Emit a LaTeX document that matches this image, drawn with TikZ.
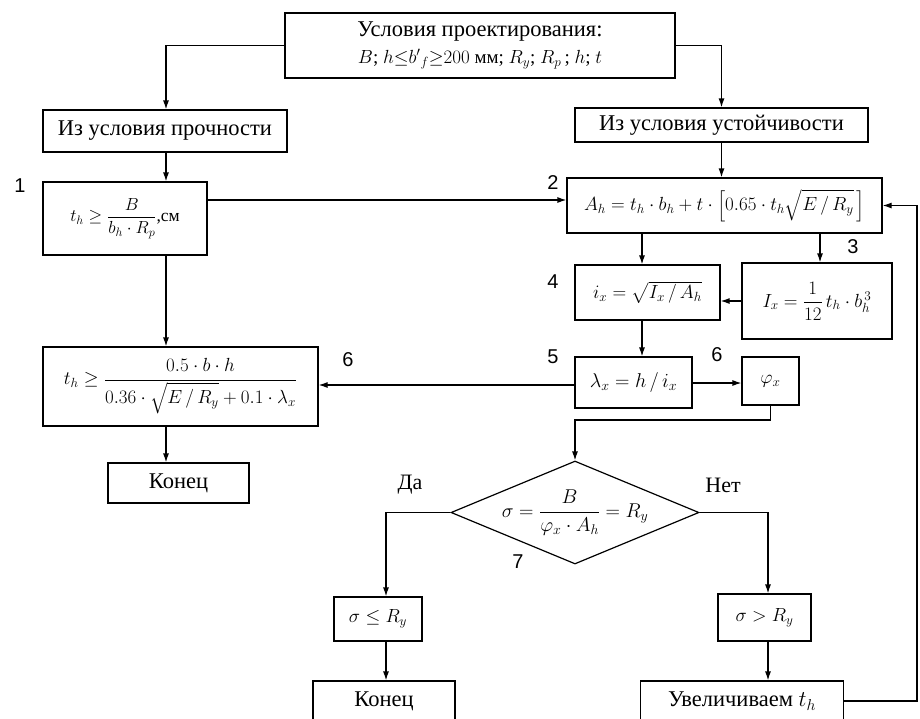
\RequirePackage{fix-cm}
\documentclass[tikz,border=0pt]{standalone}
\usepackage{amsmath}
\usepackage{fontspec}
\setmainfont{Liberation Serif}
\newfontfamily\numfont{Liberation Sans}
\usetikzlibrary{shapes.geometric,arrows.meta}
\begin{document}
\begin{tikzpicture}[x=1pt,y=-1pt,line width=1.2pt,
  box/.style={draw,inner sep=2pt,align=center,font=\fontsize{22.5}{25}\selectfont},
  fbox/.style={draw,inner sep=2pt,align=center,font=\fontsize{19}{22}\selectfont},
  arr/.style={-{Latex[length=9pt,width=6pt]}},
  lab/.style={font=\numfont\fontsize{20}{22}\selectfont},
  txt/.style={font=\fontsize{22}{24}\selectfont}]
\useasboundingbox (0,0) rectangle (920,718);
% nodes
\node[box,minimum width=390pt,minimum height=65pt] (top) at (480,45.5)
  {Условия проектирования:\\[2pt] {\fontsize{19}{22}\selectfont $B$; $h{\le}b'{}_{f}{\ge}200$ мм; $R_y$; $R_p$\,; $h$; $t$}};
\node[box,minimum width=244pt,minimum height=42pt] (str) at (165,131) {Из условия прочности};
\node[box,minimum width=293pt,minimum height=34pt] (stab) at (721.5,125) {Из условия устойчивости};
\node[fbox,minimum width=164pt,minimum height=73pt,font=\fontsize{17.5}{20}\selectfont] (b1) at (125,218.5)
  {$t_h\geq\dfrac{B}{b_h\cdot R_p}$,см};
\node[fbox,minimum width=315pt,minimum height=55pt] (b2) at (724.5,205.5)
  {$A_h=t_h\cdot b_h+t\cdot\left[0.65\cdot t_h\sqrt{E\,/\,R_y}\,\right]$};
\node[fbox,minimum width=150pt,minimum height=76pt] (b3) at (817,301)
  {$I_x=\dfrac{1}{12}\,t_h\cdot b_h^{\,3}$};
\node[fbox,minimum width=145pt,minimum height=55pt] (b4) at (647.5,292.5)
  {$i_x=\sqrt{I_x\,/\,A_h}$};
\node[fbox,minimum width=117pt,minimum height=51pt,font=\fontsize{20}{23}\selectfont] (b5) at (633.5,382.5)
  {$\lambda_x=h\,/\,i_x$};
\node[fbox,minimum width=57pt,minimum height=48pt] (phi) at (770.5,381)
  {$\varphi_x$};
\node[fbox,minimum width=275pt,minimum height=79pt] (b6) at (180.5,386.5)
  {$t_h\geq\dfrac{0.5\cdot b\cdot h}{0.36\cdot\sqrt{E\,/\,R_y}+0.1\cdot\lambda_x}$};
\node[box,minimum width=141pt,minimum height=40pt] (k1) at (178.5,483) {Конец};
\node[draw,diamond,aspect=2.4,inner sep=-8pt,minimum width=248pt,minimum height=103pt,
  font=\fontsize{20}{23}\selectfont] (dia) at (575,512.5)
  {$\sigma=\dfrac{B}{\varphi_x\cdot A_h}=R_y$};
\node[fbox,minimum width=88pt,minimum height=44pt] (le) at (378,619) {$\sigma\leq R_y$};
\node[box,minimum width=142pt,minimum height=40pt] (k2) at (384,701) {Конец};
\node[fbox,minimum width=93pt,minimum height=47pt] (gt) at (764.5,617.5) {$\sigma>R_y$};
\node[box,minimum width=203pt,minimum height=40pt] (uv) at (742,701) {Увеличиваем $t_h$};
% labels
\node[lab] (l1) at (20,186) {1};
\node[lab] (l2) at (553,183) {2};
\node[lab] (l3) at (853,247) {3};
\node[lab] (l4) at (553,282) {4};
\node[lab] (l5) at (553,357) {5};
\node[lab] (l6a) at (717,355) {6};
\node[lab] (l6b) at (348,360) {6};
\node[lab] (l7) at (518,562) {7};
\node[txt] (da) at (410,485) {Да};
\node[txt] (net) at (723,485) {Нет};
% helper coordinates
\coordinate (yl) at (0,200);
\coordinate (xl) at (166,0);
\coordinate (xa) at (642,0);
\coordinate (xb) at (820,0);
\coordinate (ya) at (0,383);
\coordinate (yb) at (0,385);
\coordinate (ym) at (0,420);
\coordinate (xd) at (386,0);
\coordinate (xn) at (768,0);
\coordinate (xr) at (917,0);
% connectors
\draw[arr] (top.west) -| (str.north -| xl);
\draw[arr] (top.east) -| (stab.north);
\draw[arr] (str.south -| xl) -- (b1.north -| xl);
\draw[arr] (stab.south) -- (b2.north -| stab.south);
\draw[arr] (b1.east |- yl) -- (b2.west |- yl);
\draw[arr] (b2.south -| xa) -- (b4.north -| xa);
\draw[arr] (b2.south -| xb) -- (b3.north -| xb);
\draw[arr] (b3.west) -- (b4.east |- b3.west);
\draw[arr] (b4.south -| xa) -- (b5.north -| xa);
\draw[arr] (b5.east |- ya) -- (phi.west |- ya);
\draw[arr] (b5.west |- yb) -- (b6.east |- yb);
\draw[arr] (b1.south -| xl) -- (b6.north -| xl);
\draw[arr] (b6.south -| xl) -- (k1.north -| xl);
\draw[arr] (phi.south) |- (dia.north |- ym) -- (dia.north);
\draw[arr] (dia.west) -| (le.north -| xd);
\draw[arr] (dia.east) -| (gt.north -| xn);
\draw[arr] (le.south -| xd) -- (k2.north -| xd);
\draw[arr] (gt.south -| xn) -- (uv.north -| xn);
\draw[arr] (uv.east) -- (uv.east -| xr) |- (b2.east);
\end{tikzpicture}
\end{document}
